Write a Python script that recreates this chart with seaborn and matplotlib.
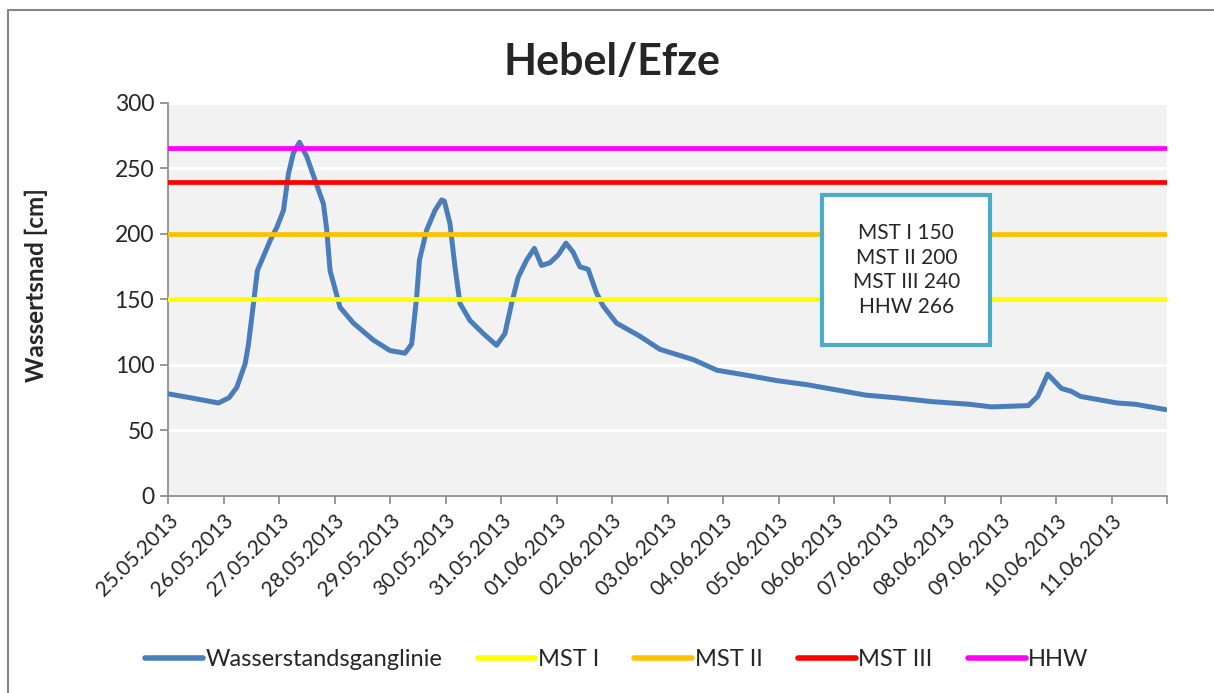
import pandas as pd
import numpy as np
import matplotlib
matplotlib.use('Agg')
import matplotlib.pyplot as plt
import matplotlib.patches as mpatches
from matplotlib.lines import Line2D
import seaborn as sns

# water level readings: days after 25.05.2013 00:00 and level in cm
start = pd.Timestamp('2013-05-25')
days = [0.00, 0.40, 0.91, 1.10, 1.24, 1.39, 1.45, 1.54, 1.61, 1.84, 1.96, 2.08,
        2.17, 2.26, 2.37, 2.50, 2.65, 2.80, 2.86, 2.92, 3.10, 3.34, 3.70, 4.00,
        4.27, 4.39, 4.48, 4.53, 4.66, 4.81, 4.93, 4.98, 5.08, 5.17, 5.26, 5.44,
        5.68, 5.92, 6.07, 6.19, 6.31, 6.46, 6.60, 6.73, 6.88, 7.03, 7.17, 7.30,
        7.42, 7.57, 7.72, 7.84, 8.08, 8.50, 8.86, 9.47, 9.89, 10.45, 10.98, 11.51,
        12.04, 12.57, 13.11, 13.77, 14.44, 14.84, 15.50, 15.67, 15.85, 16.10,
        16.27, 16.44, 17.10, 17.43, 17.97]
level = [78, 75, 71, 75, 83, 101, 116, 147, 172, 195, 205, 218,
         246, 262, 270, 259, 241, 223, 203, 172, 144, 132, 119, 111,
         109, 116, 152, 180, 203, 218, 226, 225, 208, 175, 147, 134,
         124, 115, 124, 147, 167, 180, 189, 176, 178, 184, 193, 186,
         175, 173, 155, 145, 132, 122, 112, 104, 96, 92, 88, 85,
         81, 77, 75, 72, 70, 68, 69, 76, 93, 82,
         80, 76, 71, 70, 66]

thresh_names = ['MST I', 'MST II', 'MST III', 'HHW']
thresh_values = [150, 200, 240, 266]
thresh_colors = ['#FFFF00', '#FFC000', '#FF0000', '#FF00FF']

tick_dates = pd.date_range('2013-05-25', '2013-06-12', freq='D')
tick_labels = [d.strftime('%d.%m.%Y') for d in tick_dates[:-1]] + ['']

df = pd.DataFrame({'time': start + pd.to_timedelta(days, unit='D'), 'level': level})

sns.set_style('white', {'axes.facecolor': '#F2F2F2'})
plt.rcParams['font.family'] = ['Lato', 'DejaVu Sans']

fig = plt.figure(figsize=(12.14, 6.93), dpi=100)
ax = fig.add_axes([0.1384, 0.2843, 0.8229, 0.5671])

blue = '#4A7EBB'
sns.lineplot(data=df, x='time', y='level', ax=ax, color=blue, linewidth=3.6,
             solid_capstyle='round', zorder=3)
for name, val, col in zip(thresh_names, thresh_values, thresh_colors):
    ax.axhline(val, color=col, linewidth=3.4, zorder=4)

ax.set_xlim(tick_dates[0], tick_dates[-1])
ax.set_ylim(0, 300)
ax.set_yticks(np.arange(0, 301, 50))
ax.set_xticks(tick_dates)
ax.set_xticklabels(tick_labels, rotation=45, ha='right', rotation_mode='anchor',
                   fontsize=15)
ax.tick_params(axis='y', labelsize=16.5)
ax.tick_params(axis='both', direction='out', length=6, width=1.2, color='#868686',
               left=True, bottom=True, pad=4)
ax.grid(axis='y', color='white', linewidth=2.2, zorder=1)
ax.set_axisbelow(True)
for side in ['top', 'right']:
    ax.spines[side].set_visible(False)
for side in ['left', 'bottom']:
    ax.spines[side].set_color('#868686')
    ax.spines[side].set_linewidth(1.2)

ax.set_xlabel('')
ax.set_ylabel('Wassertsnad [cm]', fontsize=17.5, fontweight='bold')
ax.yaxis.set_label_coords(-0.12, 0.537)
fig.text(0.504, 0.91, 'Hebel/Efze', ha='center', va='center', fontsize=31,
         fontweight='bold')

# threshold info box
ax.add_patch(mpatches.Rectangle((0.6547, 0.384), 0.168, 0.382, transform=ax.transAxes,
                                facecolor='white', edgecolor='#4BACC6', linewidth=3,
                                zorder=6))
box_text = '\n'.join(f'{n} {v}' for n, v in zip(thresh_names, thresh_values))
ax.text(0.739, 0.575, box_text, transform=ax.transAxes, ha='center', va='center',
        fontsize=15, linespacing=1.3, zorder=7)

handles = [Line2D([], [], color=blue, linewidth=4, solid_capstyle='round')]
handles += [Line2D([], [], color=c, linewidth=4, solid_capstyle='round')
            for c in thresh_colors]
labels = ['Wasserstandsganglinie'] + thresh_names
fig.legend(handles, labels, loc='center', bbox_to_anchor=(0.508, 0.048), ncol=5,
           frameon=False, fontsize=17, handlelength=2.45, handletextpad=0.1,
           columnspacing=1.5)

# outer chart border (top and left visible)
fig.add_artist(Line2D([0.0066, 0.0066], [0.0, 0.9856], transform=fig.transFigure,
                      color='#868686', linewidth=1.5))
fig.add_artist(Line2D([0.0066, 1.0], [0.9856, 0.9856], transform=fig.transFigure,
                      color='#868686', linewidth=1.5))

fig.savefig('out.png', dpi=100)
